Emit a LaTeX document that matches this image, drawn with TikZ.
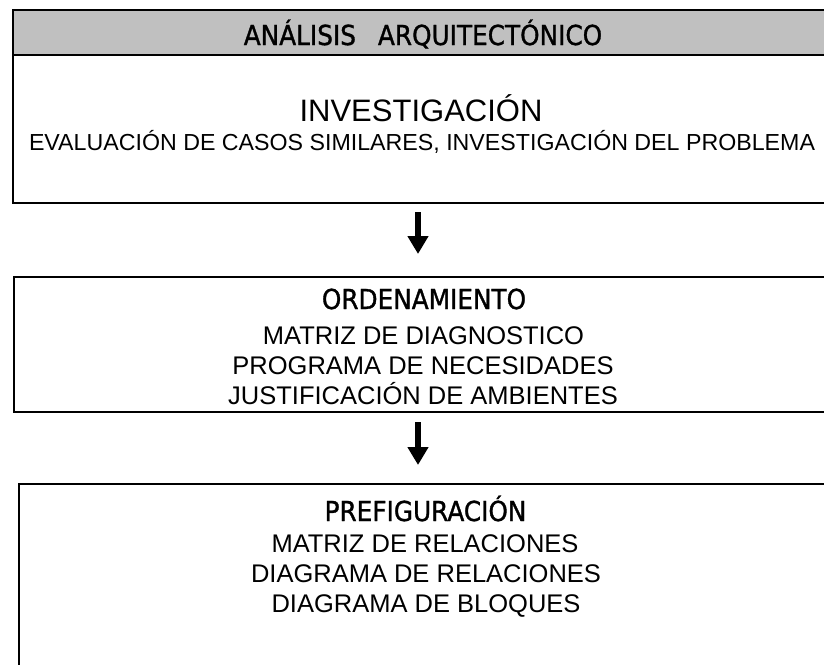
\documentclass[tikz,border=0pt]{standalone}
\usepackage{fontspec}
\setmainfont{Liberation Sans}
\newfontfamily\hdrfont[FakeStretch=0.9,FakeBold=1.2]{DejaVu Sans}
\usetikzlibrary{arrows.meta}
\definecolor{hdrgray}{HTML}{C0C0C0}
\begin{document}
\begin{tikzpicture}[x=1pt,y=-1pt,
  box/.style={draw=black, line width=2pt, rectangle, inner sep=0pt, anchor=north west},
  hdr/.style={font=\hdrfont\fontsize{27.5}{27.5}\selectfont, anchor=base, inner sep=0pt},
  big/.style={font=\fontsize{31}{31}\selectfont, anchor=base, inner sep=0pt},
  sub/.style={font=\fontsize{23.2}{23.2}\selectfont, anchor=base, inner sep=0pt},
  item/.style={font=\fontsize{25.5}{25.5}\selectfont, anchor=base, inner sep=0pt},
  flow/.style={line width=6.5pt, -{Triangle[length=18pt,width=20pt]}},
]
\fill[white] (0,0) rectangle (824,664);
\useasboundingbox (0,0) rectangle (824,664);
\clip (0,0) rectangle (824,664);

% boxes
\node[box, minimum width=840pt, minimum height=193pt] (b1) at (12,9) {};
\node[box, fill=hdrgray, minimum width=840pt, minimum height=45pt] (h1) at (12,9) {};
\node[box, minimum width=840pt, minimum height=135pt] (b2) at (13,276) {};
\node[box, minimum width=840pt, minimum height=300pt] (b3) at (18,483) {};

% texts
\node[hdr] (t0) at (423,45) {ANÁLISIS\hspace{22pt}ARQUITECTÓNICO};
\node[big] (t1) at (421,121) {INVESTIGACIÓN};
\node[sub] (t2) at (422,150) {EVALUACIÓN DE CASOS SIMILARES, INVESTIGACIÓN DEL PROBLEMA};

\node[hdr] (t3) at (424,309) {ORDENAMIENTO};
\node[item] (t4) at (423.5,344) {MATRIZ DE DIAGNOSTICO};
\node[item] (t5) at (423,374) {PROGRAMA DE NECESIDADES};
\node[item] (t6) at (423,404) {JUSTIFICACIÓN DE AMBIENTES};

\node[hdr] (t7) at (425.5,521) {PREFIGURACIÓN};
\node[item] (t8) at (425,552) {MATRIZ DE RELACIONES};
\node[item] (t9) at (426,582) {DIAGRAMA DE RELACIONES};
\node[item] (t10) at (426,612) {DIAGRAMA DE BLOQUES};

% arrows
\coordinate (ax) at (418,0);
\draw[flow, shorten <=8pt, shorten >=22pt] (b1.south -| ax) -- (b2.north -| ax);
\draw[flow, shorten <=9pt, shorten >=18pt] (b2.south -| ax) -- (b3.north -| ax);
\end{tikzpicture}
\end{document}
